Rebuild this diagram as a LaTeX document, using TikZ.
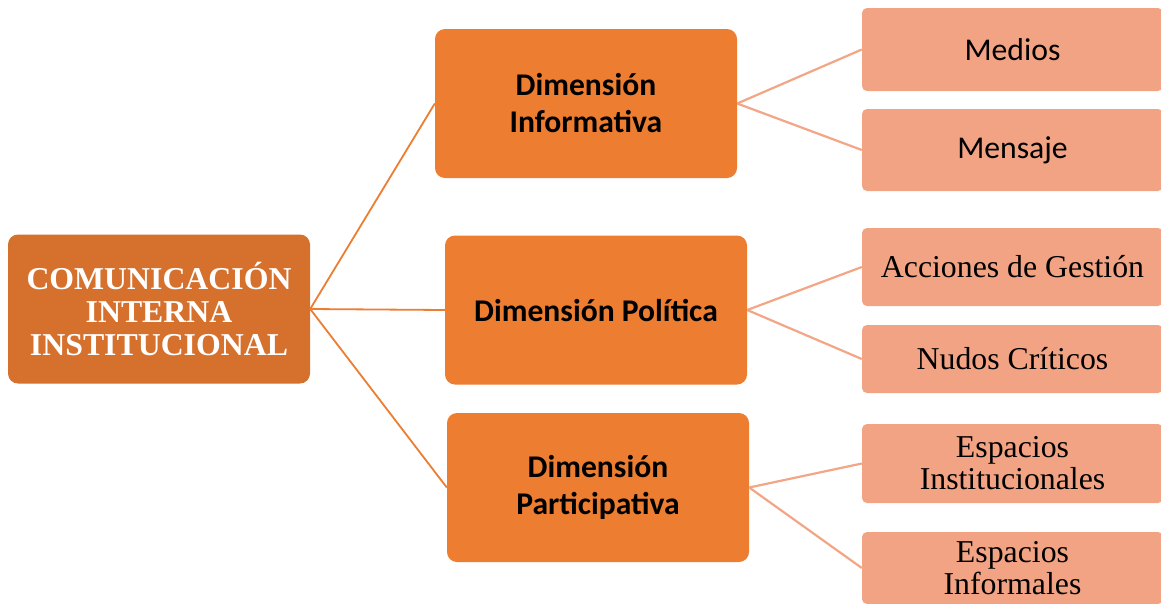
\documentclass[tikz,border=0pt]{standalone}
\usepackage{fontspec}
\setmainfont{Liberation Serif}
\newfontfamily\calibri{Carlito}
\definecolor{rootC}{HTML}{D5702D}
\definecolor{dimC}{HTML}{ED7D31}
\definecolor{leafC}{HTML}{F1A383}
\definecolor{leafL}{HTML}{F3A685}
\tikzset{
  rootbox/.style={fill=rootC, rounded corners=10pt, minimum width=302pt, minimum height=149pt, inner sep=0pt, align=center, text=white, font=\fontsize{31.8}{33}\selectfont\bfseries},
  dimbox/.style={fill=dimC, rounded corners=10pt, minimum width=302pt, minimum height=149pt, inner sep=0pt, align=center, text=black, font=\calibri\fontsize{31.6}{37}\selectfont\bfseries},
  leafsans/.style={fill=leafC, rounded corners=5pt, minimum width=301pt, inner sep=0pt, align=center, text=black, font=\calibri\fontsize{31.7}{37}\selectfont},
  leafserif/.style={fill=leafC, rounded corners=5pt, minimum width=301pt, inner sep=0pt, align=center, text=black, font=\fontsize{31.8}{32}\selectfont},
  rootline/.style={draw=dimC, line width=1.8pt},
  leafline/.style={draw=leafL, line width=2.2pt}
}
\begin{document}
\begin{tikzpicture}[x=1pt, y=-1pt]
\clip (0,0) rectangle (1161,603);
\fill[white] (0,0) rectangle (1161,603);
\node[rootbox] (root) at (159,309) {COMUNICACIÓN\\INTERNA\\INSTITUCIONAL};
\node[dimbox] (inf) at (586,103.5) {Dimensión\\Informativa};
\node[dimbox] (pol) at (596,310) {Dimensión Política};
\node[dimbox] (par) at (598,487.5) {Dimensión\\Participativa};
\node[leafsans, minimum height=83pt] (med) at (1012.5,49.5) {Medios};
\node[leafsans, minimum height=82pt] (men) at (1012.5,150) {Mensaje};
\node[leafserif, minimum height=78pt] (acc) at (1012.5,267) {Acciones de Gestión};
\node[leafserif, minimum height=68pt] (nud) at (1012.5,359) {Nudos Críticos};
\node[leafserif, minimum height=79pt] (ein) at (1012.5,463.5) {Espacios\\Institucionales};
\node[leafserif, minimum height=72pt] (efo) at (1012.5,568) {Espacios\\Informales};
\draw[rootline] (root.east) -- (inf.west);
\draw[rootline] (root.east) -- (pol.west);
\draw[rootline] (root.east) -- (par.west);
\draw[leafline] (inf.east) -- (med.west);
\draw[leafline] (inf.east) -- (men.west);
\draw[leafline] (pol.east) -- (acc.west);
\draw[leafline] (pol.east) -- (nud.west);
\draw[leafline] (par.east) -- (ein.west);
\draw[leafline] (par.east) -- (efo.west);
\end{tikzpicture}
\end{document}
